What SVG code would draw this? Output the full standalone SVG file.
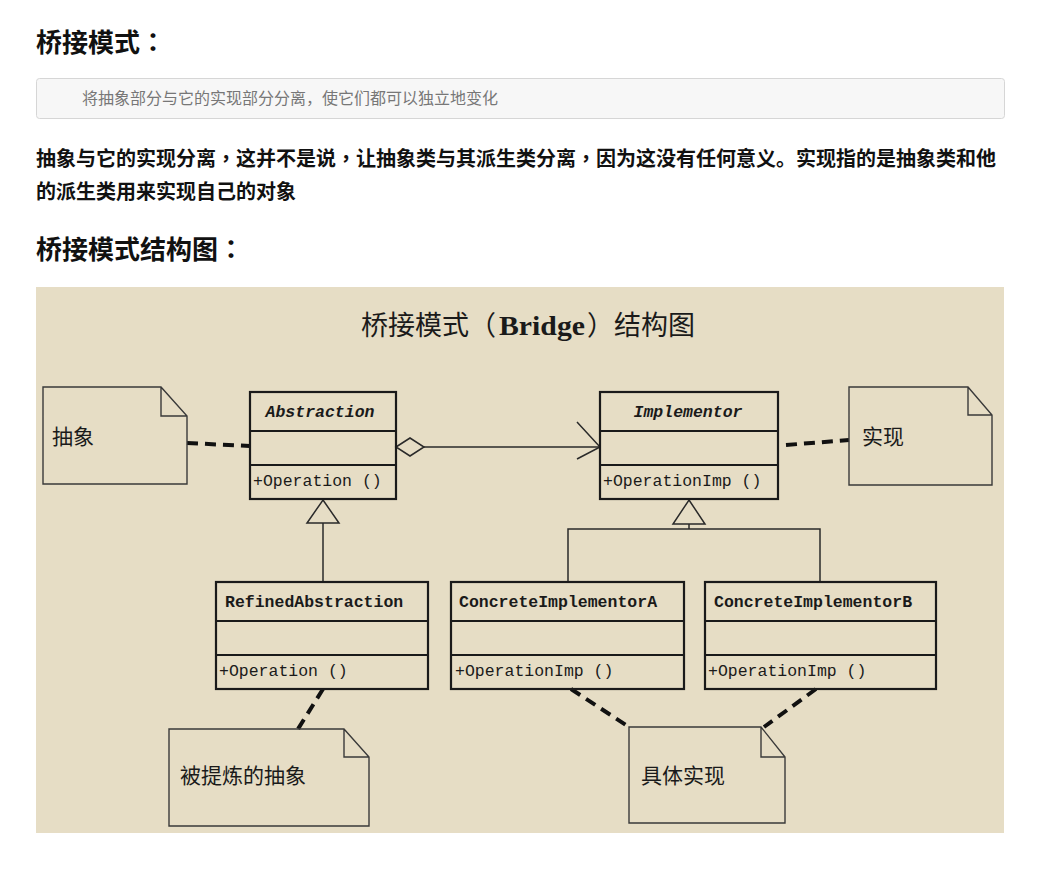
<svg xmlns="http://www.w3.org/2000/svg" width="1040" height="869" viewBox="0 0 1040 869">
<style>
.h{font-family:"Noto Sans CJK SC",sans-serif;font-weight:bold;font-size:26px;fill:#111}
.p{font-family:"Noto Sans CJK SC",sans-serif;font-weight:bold;font-size:20px;fill:#111}
.tc{font-family:"Noto Sans CJK TC",sans-serif}
.q{font-family:"Noto Sans CJK SC",sans-serif;font-size:16px;fill:#777}
.box{fill:none;stroke:#1a1a1a;stroke-width:2.2}
.note{fill:none;stroke:#3a3a3a;stroke-width:1.4}
.cn{font-family:"Liberation Mono",monospace;font-weight:bold;font-size:16.5px;fill:#1a1a1a}
.cni{font-family:"Liberation Mono",monospace;font-weight:bold;font-style:italic;font-size:16.5px;fill:#1a1a1a}
.m{font-family:"Liberation Mono",monospace;font-size:16.5px;fill:#1a1a1a}
.nt{font-family:"Noto Sans CJK SC",sans-serif;font-size:21px;fill:#1a1a1a}
.dash{fill:none;stroke:#111;stroke-width:4;stroke-dasharray:11 7}
.ln{fill:none;stroke:#2a2a2a;stroke-width:1.5}
</style>
<rect width="1040" height="869" fill="#ffffff"/>
<text class="h" x="36" y="52">桥接模式<tspan class="tc">：</tspan></text>
<rect x="36.5" y="78.5" width="968" height="40" rx="3" fill="#f7f7f7" stroke="#d6d6d6"/>
<text class="q" x="82" y="104">将抽象部分与它的实现部分分离，使它们都可以独立地变化</text>
<text class="p" x="36" y="166">抽象与它的实现分离<tspan class="tc">，</tspan>这并不是说<tspan class="tc">，</tspan>让抽象类与其派生类分离<tspan class="tc">，</tspan>因为这没有任何意义。实现指的是抽象类和他</text>
<text class="p" x="36" y="199">的派生类用来实现自己的对象</text>
<text class="h" x="36" y="259">桥接模式结构图<tspan class="tc">：</tspan></text>

<rect x="36" y="287" width="968" height="546" fill="#e6ddc5"/>
<text x="361" y="335" font-family="Noto Sans CJK SC,sans-serif" font-size="27" fill="#1a1a1a">桥接模式（<tspan x="499" font-family="Liberation Serif,serif" font-weight="bold" textLength="86" lengthAdjust="spacingAndGlyphs">Bridge</tspan><tspan x="587">）结构图</tspan></text>

<g id="connectors">
  <path class="dash" d="M187 443 L250 446"/>
  <path class="dash" d="M786 445 L849 440"/>
  <path class="dash" d="M323 689 L298 729"/>
  <path class="dash" d="M571 689 L629 727"/>
  <path class="dash" d="M816 689 L764 727"/>
  <path class="ln" d="M396 447 L410 438 L424 447 L410 456 Z" fill="#e6ddc5"/>
  <path class="ln" d="M424 447 H599"/>
  <path class="ln" d="M577 422 L600 447 L577 459"/>
  <path class="ln" d="M323 500 L339 523 H307 Z" fill="#e6ddc5"/>
  <path class="ln" d="M323 523 V582"/>
  <path class="ln" d="M689 500 L705 524 H673 Z" fill="#e6ddc5"/>
  <path class="ln" d="M689 524 V529 M568 582 V529 H820 V582"/>
</g>

<g id="note-abstraction">
  <path class="note" d="M43 387 H161 L187 416 V484 H43 Z M161 387 V416 H187"/>
  <text class="nt" x="52" y="444">抽象</text>
</g>
<g id="note-implementor">
  <path class="note" d="M849 387 H968 L992 415 V485 H849 Z M968 387 V415 H992"/>
  <text class="nt" x="862" y="444">实现</text>
</g>
<g id="note-refined">
  <path class="note" d="M169 729 H344 L369 757 V826 H169 Z M344 729 V757 H369"/>
  <text class="nt" x="180" y="783">被提炼的抽象</text>
</g>
<g id="note-concrete">
  <path class="note" d="M629 727 H761 L785 757 V823 H629 Z M761 727 V757 H785"/>
  <text class="nt" x="641" y="783">具体实现</text>
</g>

<g id="abstraction">
  <rect class="box" x="250" y="392" width="146" height="107"/>
  <path class="box" d="M250 431 H396 M250 465 H396"/>
  <text class="cni" x="320" y="417" text-anchor="middle">Abstraction</text>
  <text class="m" x="253" y="486">+Operation ()</text>
</g>
<g id="implementor">
  <rect class="box" x="600" y="392" width="178" height="107"/>
  <path class="box" d="M600 431 H778 M600 465 H778"/>
  <text class="cni" x="688" y="417" text-anchor="middle">Implementor</text>
  <text class="m" x="603" y="486">+OperationImp ()</text>
</g>
<g id="refined-abstraction">
  <rect class="box" x="216" y="582" width="212" height="107"/>
  <path class="box" d="M216 621 H428 M216 655 H428"/>
  <text class="cn" x="225" y="607">RefinedAbstraction</text>
  <text class="m" x="219" y="676">+Operation ()</text>
</g>
<g id="concrete-a">
  <rect class="box" x="451" y="582" width="233" height="107"/>
  <path class="box" d="M451 621 H684 M451 655 H684"/>
  <text class="cn" x="459" y="607">ConcreteImplementorA</text>
  <text class="m" x="455" y="676">+OperationImp ()</text>
</g>
<g id="concrete-b">
  <rect class="box" x="705" y="582" width="231" height="107"/>
  <path class="box" d="M705 621 H936 M705 655 H936"/>
  <text class="cn" x="714" y="607">ConcreteImplementorB</text>
  <text class="m" x="708" y="676">+OperationImp ()</text>
</g>
</svg>
